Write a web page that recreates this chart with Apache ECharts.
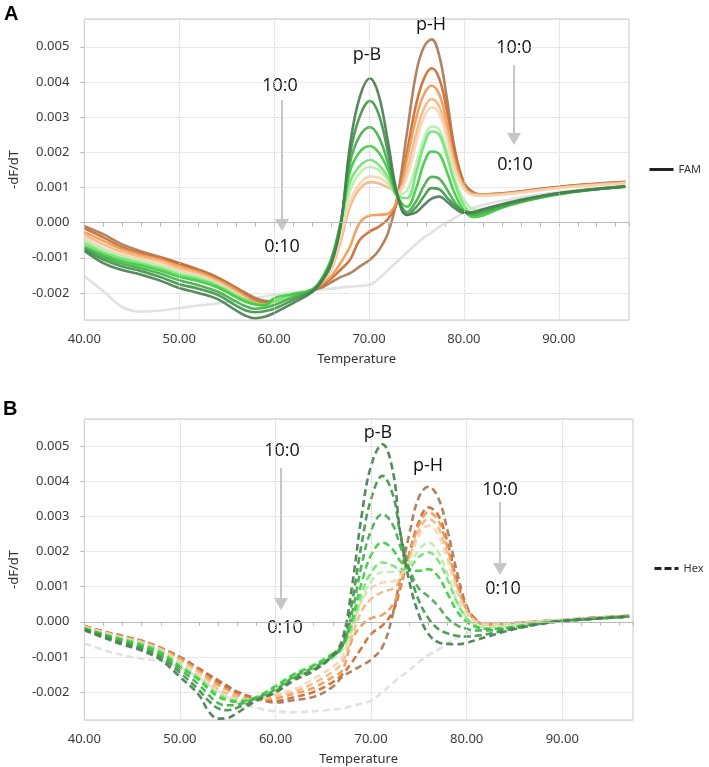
<!DOCTYPE html>
<html>
<head>
<meta charset="utf-8">
<script src="https://cdn.jsdelivr.net/npm/echarts@6/dist/echarts.min.js"></script>
<style>
  html, body { margin: 0; padding: 0; background: #fff; }
  #chart { width: 709px; height: 767px; }
</style>
</head>
<body>
<div id="chart"></div>
<script>
// ratio labels, darkest green (10:0) to brown (0:10)
const ratios = ["10:0", "9:1", "8:2", "7:3", "6:4", "5:5", "4:6", "3:7", "2:8", "1:9", "0:10"];
const colors = ["#4b7d51", "#3f9848", "#47ad4e", "#3ccd3c", "#74e274", "#b8efae",
                "#f7d5b2", "#f4b684", "#ef9a52", "#cd6a30", "#a97a55"];
const ntcColor = "#e2e2e2";

// panel A (FAM), -dF/dT in units of 0.001
const tempsA = [40, 42, 44, 46, 48, 50, 52, 54, 56, 57, 58, 59, 60, 62, 64, 65, 66, 67, 68, 69,
                70.1, 71, 72, 73, 74, 75, 75.8, 76.6, 77.4, 78.2, 79, 80, 81, 82, 84, 86, 88, 90, 93, 97];
const fam10_0 = [-0.80, -1.15, -1.35, -1.48, -1.65, -1.86, -2.00, -2.17, -2.50, -2.65, -2.72, -2.68, -2.57, -2.29, -1.98, -1.68, -1.20, -0.10, 2.20, 3.55,
                 4.10, 3.65, 2.30, 0.80, 0.22, 0.30, 0.50, 0.68, 0.74, 0.60, 0.42, 0.28, 0.30, 0.38, 0.52, 0.65, 0.75, 0.84, 0.93, 1.03];
const fam9_1 = [-0.76, -1.05, -1.25, -1.38, -1.55, -1.75, -1.88, -2.05, -2.36, -2.50, -2.55, -2.52, -2.45, -2.20, -1.95, -1.65, -1.15, -0.08, 1.95, 3.00,
                3.46, 3.10, 2.00, 0.75, 0.22, 0.45, 0.75, 0.98, 0.95, 0.72, 0.50, 0.32, 0.28, 0.35, 0.50, 0.63, 0.74, 0.83, 0.93, 1.03];
const fam8_2 = [-0.72, -0.98, -1.17, -1.30, -1.45, -1.64, -1.78, -1.96, -2.25, -2.38, -2.45, -2.42, -2.35, -2.12, -1.93, -1.62, -1.10, -0.05, 1.70, 2.45,
                2.71, 2.45, 1.70, 0.75, 0.30, 0.62, 1.05, 1.30, 1.25, 0.95, 0.60, 0.30, 0.22, 0.28, 0.45, 0.60, 0.72, 0.82, 0.92, 1.02];
const fam7_3 = [-0.68, -0.92, -1.10, -1.22, -1.36, -1.54, -1.66, -1.84, -2.12, -2.25, -2.33, -2.35, -2.15, -2.03, -1.90, -1.60, -1.05, 0.00, 1.45, 2.00,
                2.18, 2.00, 1.50, 0.75, 0.45, 1.00, 1.70, 2.02, 1.95, 1.45, 0.85, 0.35, 0.15, 0.20, 0.42, 0.58, 0.70, 0.80, 0.92, 1.02];
const fam6_4 = [-0.58, -0.85, -1.03, -1.16, -1.30, -1.48, -1.60, -1.79, -2.08, -2.20, -2.30, -2.33, -2.24, -2.05, -1.92, -1.62, -1.10, -0.05, 1.15, 1.60,
                1.78, 1.65, 1.30, 0.75, 0.70, 1.45, 2.20, 2.59, 2.50, 1.90, 1.15, 0.50, 0.22, 0.25, 0.45, 0.60, 0.72, 0.82, 0.93, 1.03];
const fam5_5 = [-0.50, -0.78, -0.97, -1.10, -1.24, -1.42, -1.55, -1.75, -2.05, -2.20, -2.32, -2.38, -2.30, -2.08, -1.93, -1.65, -1.20, -0.20, 0.90, 1.40,
                1.58, 1.50, 1.20, 0.80, 0.90, 1.70, 2.40, 2.73, 2.65, 2.05, 1.30, 0.65, 0.38, 0.35, 0.50, 0.63, 0.74, 0.84, 0.94, 1.04];
const fam4_6 = [-0.42, -0.72, -0.92, -1.05, -1.18, -1.37, -1.50, -1.72, -2.02, -2.18, -2.33, -2.40, -2.34, -2.10, -1.93, -1.68, -1.30, -0.40, 0.60, 1.10,
                1.31, 1.28, 1.10, 0.85, 1.30, 2.30, 3.00, 3.28, 3.10, 2.40, 1.55, 0.95, 0.78, 0.76, 0.80, 0.85, 0.92, 0.98, 1.05, 1.12];
const fam3_7 = [-0.35, -0.62, -0.84, -0.98, -1.10, -1.30, -1.45, -1.67, -1.98, -2.15, -2.30, -2.38, -2.33, -2.10, -1.92, -1.70, -1.35, -0.55, 0.45, 0.95,
                1.15, 1.12, 1.00, 0.90, 1.50, 2.55, 3.25, 3.51, 3.30, 2.60, 1.65, 1.00, 0.80, 0.78, 0.80, 0.86, 0.93, 0.99, 1.06, 1.13];
const fam2_8 = [-0.27, -0.52, -0.76, -0.92, -1.05, -1.24, -1.40, -1.62, -1.92, -2.10, -2.25, -2.32, -2.30, -2.12, -1.93, -1.75, -1.53, -1.15, -0.68, -0.02,
                0.20, 0.22, 0.25, 0.65, 1.80, 3.00, 3.65, 3.89, 3.65, 2.85, 1.80, 1.05, 0.82, 0.80, 0.82, 0.87, 0.94, 1.00, 1.07, 1.14];
const fam1_9 = [-0.16, -0.42, -0.70, -0.88, -1.01, -1.18, -1.36, -1.58, -1.88, -2.05, -2.20, -2.27, -2.26, -2.12, -1.93, -1.80, -1.60, -1.34, -1.06, -0.50,
                -0.25, -0.12, 0.10, 0.60, 2.00, 3.40, 4.10, 4.39, 4.10, 3.20, 2.00, 1.10, 0.83, 0.80, 0.82, 0.88, 0.95, 1.01, 1.08, 1.15];
const fam0_10 = [-0.10, -0.33, -0.62, -0.82, -0.98, -1.15, -1.33, -1.55, -1.85, -2.00, -2.14, -2.22, -2.24, -2.10, -1.92, -1.85, -1.70, -1.55, -1.44, -1.25,
                 -1.06, -0.80, -0.30, 0.75, 2.55, 4.30, 5.00, 5.21, 4.75, 3.55, 2.15, 1.15, 0.86, 0.80, 0.83, 0.89, 0.96, 1.02, 1.09, 1.16];
const famNtc = [-1.53, -1.95, -2.40, -2.53, -2.50, -2.43, -2.36, -2.30, -2.22, -2.18, -2.15, -2.10, -2.05, -1.98, -1.93, -1.90, -1.88, -1.85, -1.82, -1.80,
                -1.77, -1.60, -1.35, -1.10, -0.85, -0.60, -0.42, -0.28, -0.12, 0.00, 0.12, 0.30, 0.42, 0.50, 0.62, 0.72, 0.80, 0.87, 0.95, 1.02];

// panel B (Hex)
const tempsB = [40, 42, 44, 46, 48, 50, 52, 53, 54, 55, 56, 58, 60, 62, 64, 66, 67, 68, 69, 70,
                71.2, 72.3, 73, 74, 75, 76, 77, 78, 79, 80, 81, 82, 84, 86, 88, 90, 93, 97];
const hex10_0 = [-0.24, -0.45, -0.65, -0.82, -1.09, -1.57, -2.09, -2.55, -2.76, -2.74, -2.60, -2.25, -2.02, -1.66, -1.40, -0.95, -0.50, 1.00, 3.00, 4.45,
                 5.06, 4.26, 2.64, 1.15, 0.20, -0.35, -0.58, -0.63, -0.64, -0.60, -0.52, -0.44, -0.28, -0.15, -0.05, 0.02, 0.08, 0.15];
const hex9_1 = [-0.22, -0.42, -0.60, -0.77, -1.02, -1.45, -1.95, -2.25, -2.47, -2.52, -2.45, -2.22, -1.98, -1.60, -1.36, -0.98, -0.65, 0.55, 2.20, 3.50,
                4.16, 3.60, 2.60, 1.45, 0.60, 0.10, -0.20, -0.33, -0.40, -0.42, -0.40, -0.36, -0.25, -0.14, -0.05, 0.02, 0.08, 0.15];
const hex8_2 = [-0.20, -0.38, -0.56, -0.72, -0.96, -1.35, -1.80, -2.08, -2.32, -2.38, -2.36, -2.18, -1.93, -1.55, -1.30, -0.98, -0.70, 0.25, 1.60, 2.60,
                3.07, 2.75, 2.20, 1.50, 0.95, 0.72, 0.45, 0.10, -0.10, -0.20, -0.25, -0.25, -0.20, -0.12, -0.04, 0.02, 0.08, 0.15];
const hex7_3 = [-0.19, -0.36, -0.52, -0.67, -0.89, -1.28, -1.66, -1.92, -2.14, -2.24, -2.28, -2.15, -1.85, -1.50, -1.25, -0.92, -0.68, 0.05, 1.10, 1.90,
                2.26, 2.05, 1.75, 1.50, 1.45, 1.50, 1.30, 0.80, 0.30, 0.00, -0.15, -0.20, -0.18, -0.10, -0.03, 0.03, 0.08, 0.15];
const hex6_4 = [-0.18, -0.35, -0.50, -0.64, -0.86, -1.25, -1.62, -1.86, -2.08, -2.20, -2.25, -2.15, -1.82, -1.48, -1.23, -0.90, -0.70, -0.10, 0.80, 1.40,
                1.69, 1.60, 1.50, 1.55, 1.85, 1.98, 1.75, 1.20, 0.55, 0.10, -0.12, -0.20, -0.18, -0.10, -0.03, 0.03, 0.08, 0.15];
const hex5_5 = [-0.17, -0.34, -0.48, -0.62, -0.84, -1.22, -1.58, -1.82, -2.04, -2.17, -2.24, -2.17, -1.88, -1.60, -1.35, -1.05, -0.80, -0.25, 0.60, 1.15,
                1.42, 1.42, 1.45, 1.65, 2.05, 2.26, 2.00, 1.35, 0.60, 0.12, -0.10, -0.15, -0.12, -0.06, 0.00, 0.04, 0.09, 0.15];
const hex4_6 = [-0.15, -0.31, -0.46, -0.60, -0.80, -1.15, -1.50, -1.75, -2.00, -2.12, -2.20, -2.22, -2.05, -1.92, -1.62, -1.28, -1.00, -0.10, 0.60, 0.95,
                1.12, 1.15, 1.30, 1.75, 2.45, 2.74, 2.50, 1.75, 0.85, 0.25, 0.00, -0.08, -0.06, -0.02, 0.02, 0.05, 0.10, 0.16];
const hex3_7 = [-0.14, -0.30, -0.44, -0.58, -0.78, -1.10, -1.45, -1.68, -1.92, -2.05, -2.15, -2.22, -2.10, -1.98, -1.75, -1.42, -1.15, -0.40, 0.30, 0.65,
                0.85, 0.95, 1.20, 1.80, 2.60, 2.93, 2.70, 1.90, 0.95, 0.30, 0.00, -0.08, -0.06, -0.02, 0.02, 0.05, 0.10, 0.17];
const hex2_8 = [-0.13, -0.29, -0.43, -0.56, -0.76, -1.05, -1.40, -1.60, -1.80, -1.95, -2.08, -2.22, -2.18, -2.05, -1.88, -1.57, -1.38, -0.52, -0.10, 0.10,
                0.20, 0.50, 1.00, 1.90, 2.75, 3.12, 2.90, 2.10, 1.05, 0.35, 0.02, -0.08, -0.06, -0.02, 0.02, 0.05, 0.10, 0.17];
const hex1_9 = [-0.12, -0.28, -0.42, -0.54, -0.74, -1.02, -1.36, -1.54, -1.72, -1.88, -2.02, -2.22, -2.25, -2.15, -2.00, -1.72, -1.50, -1.15, -0.75, -0.35,
                -0.10, 0.30, 0.90, 1.95, 2.85, 3.26, 3.05, 2.25, 1.15, 0.40, 0.05, -0.06, -0.05, -0.02, 0.02, 0.05, 0.11, 0.17];
const hex0_10 = [-0.12, -0.28, -0.40, -0.55, -0.76, -1.00, -1.33, -1.50, -1.66, -1.83, -1.99, -2.18, -2.30, -2.23, -2.14, -1.85, -1.57, -1.40, -1.25, -1.08,
                 -0.71, 0.24, 1.20, 2.50, 3.55, 3.85, 3.55, 2.60, 1.40, 0.45, 0.05, -0.08, -0.06, -0.02, 0.02, 0.05, 0.11, 0.17];
const hexNtc = [-0.62, -0.80, -0.95, -1.05, -1.12, -1.30, -1.60, -1.80, -1.98, -2.15, -2.30, -2.45, -2.55, -2.58, -2.55, -2.50, -2.47, -2.40, -2.33, -2.25,
                -2.00, -1.75, -1.58, -1.38, -1.15, -0.95, -0.80, -0.62, -0.45, -0.33, -0.26, -0.20, -0.12, -0.05, 0.00, 0.03, 0.08, 0.14];

const famCurves = [fam10_0, fam9_1, fam8_2, fam7_3, fam6_4, fam5_5, fam4_6, fam3_7, fam2_8, fam1_9, fam0_10];
const hexCurves = [hex10_0, hex9_1, hex8_2, hex7_3, hex6_4, hex5_5, hex4_6, hex3_7, hex2_8, hex1_9, hex0_10];
const gridTemps = [40, 50, 60, 70, 80, 90];

const tickFont = { fontFamily: "Noto Sans", fontSize: 13, color: "#3a3a3a" };
const nameFont = { fontFamily: "Noto Sans", fontSize: 13, color: "#333" };

function xAxisFor(idx) {
  return {
    type: "value", gridIndex: idx, min: 40, max: 97.4, interval: 2,
    name: "Temperature", nameLocation: "middle", nameGap: 33, nameTextStyle: nameFont,
    axisLine: { show: false },
    axisTick: { show: true, inside: false, length: 4, lineStyle: { color: "#b5b5b5" } },
    axisLabel: Object.assign({ margin: 13, formatter: (v) => (v % 10 === 0 ? v.toFixed(2) : "") }, tickFont),
    splitLine: { show: false }
  };
}

function yAxisFor(idx, min, max) {
  return {
    type: "value", gridIndex: idx, min: min, max: max, splitNumber: 8,
    name: "-dF/dT", nameLocation: "middle", nameGap: 58, nameTextStyle: nameFont,
    axisLine: { show: false },
    axisTick: { show: true, inside: false, length: 4, lineStyle: { color: "#b5b5b5" } },
    axisLabel: Object.assign({ margin: 15, showMinLabel: false, showMaxLabel: false,
      formatter: (v) => (v / 1000).toFixed(3) }, tickFont),
    splitLine: { show: true, lineStyle: { color: "#d2d2d2", type: "dotted", width: 1 } }
  };
}

function curveSeries(temps, curves, ntc, idx, dashed) {
  const lineType = dashed ? [7, 4] : "solid";
  const out = [{
    name: "NTC", type: "line", xAxisIndex: idx, yAxisIndex: idx,
    data: temps.map((t, j) => [t, ntc[j]]),
    showSymbol: false, smooth: 0.4, silent: true,
    lineStyle: { color: ntcColor, width: 2.6, type: lineType },
    markLine: {
      silent: true, symbol: ["none", "none"], label: { show: false },
      data: gridTemps.map((t) => ({ xAxis: t, lineStyle: { color: "#d2d2d2", type: "dotted", width: 1 } }))
        .concat([{ yAxis: 0, lineStyle: { color: "#b9b9b9", type: "solid", width: 1.2 } }])
    }
  }];
  for (let i = curves.length - 1; i >= 0; i--) {
    const vals = curves[i];
    out.push({
      name: ratios[i], type: "line", xAxisIndex: idx, yAxisIndex: idx,
      data: temps.map((t, j) => [t, vals[j]]),
      showSymbol: false, smooth: 0.4, silent: true,
      lineStyle: { color: colors[i], width: 2.6, type: lineType, opacity: 0.92 }
    });
  }
  return out;
}

function arrow(x, y1, y2) {
  return [
    { type: "line", shape: { x1: x, y1: y1, x2: x, y2: y2 - 8 }, style: { stroke: "#c6c6c6", lineWidth: 2 } },
    { type: "polygon", shape: { points: [[x - 7, y2 - 12], [x + 7, y2 - 12], [x, y2]] }, style: { fill: "#c6c6c6" } }
  ];
}

function label(text, x, y) {
  return { type: "text", x: x, y: y,
    style: { text: text, font: '18px "Open Sans"', fill: "#111", align: "center", verticalAlign: "middle" } };
}

const legendBase = { itemWidth: 24, itemHeight: 10, selectedMode: false, itemStyle: { opacity: 0 },
  lineStyle: { width: 3 },
  textStyle: { fontFamily: "Noto Sans", fontSize: 11, color: "#333" } };

const chart = echarts.init(document.getElementById("chart"));
chart.setOption({
  animation: false,
  backgroundColor: "#fff",
  grid: [
    { left: 79, top: 19, width: 550, height: 301, show: true, borderColor: "#c8c8c8", borderWidth: 1 },
    { left: 80, top: 419, width: 553, height: 301, show: true, borderColor: "#c8c8c8", borderWidth: 1 }
  ],
  xAxis: [xAxisFor(0), xAxisFor(1)],
  yAxis: [yAxisFor(0, -2.77, 5.79), yAxisFor(1, -2.8, 5.78)],
  legend: [
    Object.assign({ data: ["FAM"], left: 643, top: 159 }, legendBase),
    Object.assign({ data: ["Hex"], left: 648, top: 558 }, legendBase)
  ],
  series: curveSeries(tempsA, famCurves, famNtc, 0, false)
    .concat(curveSeries(tempsB, hexCurves, hexNtc, 1, true))
    .concat([
      { name: "FAM", type: "line", xAxisIndex: 0, yAxisIndex: 0, data: [], symbol: "none",
        lineStyle: { color: "#222", width: 3 }, itemStyle: { color: "#222" } },
      { name: "Hex", type: "line", xAxisIndex: 1, yAxisIndex: 1, data: [], symbol: "none",
        lineStyle: { color: "#222", width: 3, type: [7, 3] }, itemStyle: { color: "#222" } }
    ]),
  graphic: [
    { type: "text", x: 4, y: 4, style: { text: "A", font: 'bold 20px "Liberation Sans"', fill: "#000" } },
    { type: "text", x: 3, y: 399, style: { text: "B", font: 'bold 20px "Liberation Sans"', fill: "#000" } },
    label("p-B", 367, 55), label("p-H", 431, 25),
    label("10:0", 280, 86), label("0:10", 282, 247),
    label("10:0", 514, 48), label("0:10", 515, 165),
    label("p-B", 378, 433), label("p-H", 428, 466),
    label("10:0", 282, 451), label("0:10", 285, 628),
    label("10:0", 500, 490), label("0:10", 503, 589)
  ]
    .concat(arrow(282, 100, 231)).concat(arrow(514, 65, 145))
    .concat(arrow(281, 468, 610)).concat(arrow(500, 502, 575))
});
</script>
</body>
</html>
